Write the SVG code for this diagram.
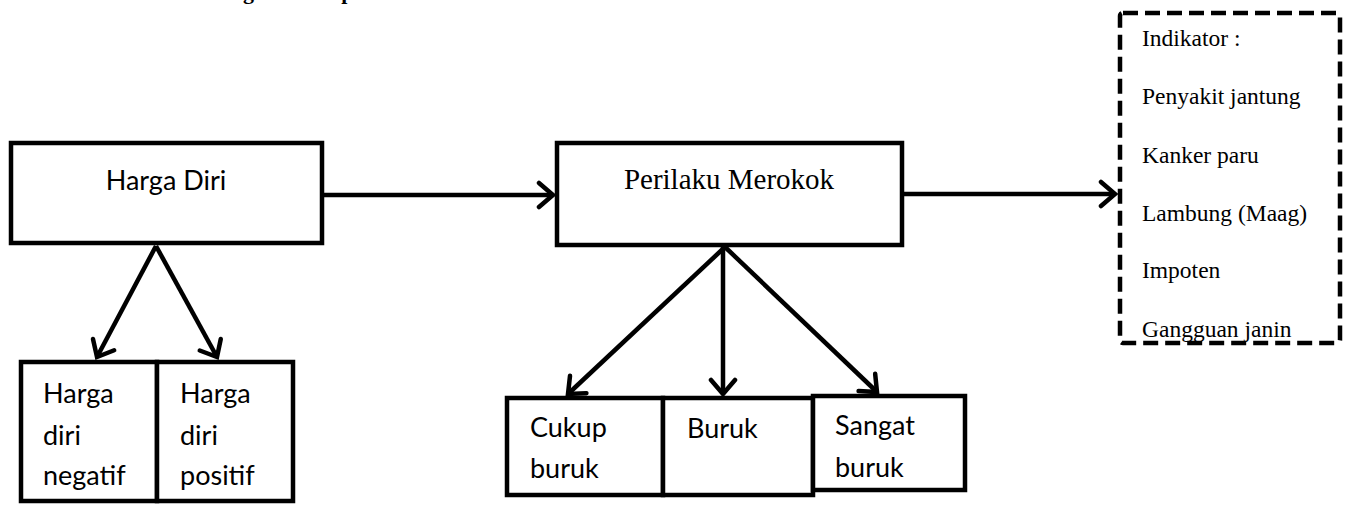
<svg xmlns="http://www.w3.org/2000/svg" width="1349" height="505" viewBox="0 0 1349 505">
  <style>
    .box { fill: #ffffff; stroke: #000000; stroke-width: 4.5; }
    .dash { fill: #ffffff; stroke: #000000; stroke-width: 4.5; stroke-dasharray: 15 7; }
    .conn { stroke: #000000; stroke-width: 4.5; fill: none; }
    .sans { font-family: "Lato", "Liberation Sans", sans-serif; font-size: 27px; fill: #000000; }
    .serif { font-family: "Liberation Serif", "Times New Roman", serif; fill: #000000; }
    .title { font-family: "Liberation Serif", "Times New Roman", serif; font-weight: bold; font-size: 22px; fill: #000000; }
  </style>
  <defs>
    <marker id="arrow" markerUnits="userSpaceOnUse" viewBox="-18 -15 22 30" refX="0" refY="0" markerWidth="22" markerHeight="30" orient="auto">
      <path d="M-14,-12 L0,0 L-14,12" fill="none" stroke="#000000" stroke-width="4.5" stroke-linecap="round" stroke-linejoin="miter"/>
    </marker>
  </defs>
  <rect width="1349" height="505" fill="#ffffff"/>

  <text class="title" x="183" y="-1">Kerangka Konsep</text>

  <g id="connectors">
    <line class="conn" x1="324" y1="195" x2="553" y2="195" marker-end="url(#arrow)"/>
    <line class="conn" x1="904" y1="194" x2="1115" y2="194" marker-end="url(#arrow)"/>
    <line class="conn" x1="156" y1="246" x2="97" y2="357" marker-end="url(#arrow)"/>
    <line class="conn" x1="156" y1="246" x2="217" y2="357" marker-end="url(#arrow)"/>
    <line class="conn" x1="725" y1="247" x2="568" y2="394" marker-end="url(#arrow)"/>
    <line class="conn" x1="723" y1="247" x2="723" y2="394" marker-end="url(#arrow)"/>
    <line class="conn" x1="725" y1="247" x2="877" y2="392" marker-end="url(#arrow)"/>
  </g>

  <g id="node-harga-diri">
    <rect class="box" x="11" y="143" width="311" height="100"/>
    <text class="sans" x="166" y="190" text-anchor="middle">Harga Diri</text>
  </g>

  <g id="node-perilaku-merokok">
    <rect class="box" x="557" y="143" width="345" height="102"/>
    <text class="serif" x="729" y="189" font-size="29" text-anchor="middle">Perilaku Merokok</text>
  </g>

  <g id="node-indikator">
    <rect class="dash" x="1120" y="13" width="220" height="330" rx="3"/>
    <text class="serif" font-size="23.5" x="1142" y="46">Indikator :</text>
    <text class="serif" font-size="23.5" x="1142" y="104">Penyakit jantung</text>
    <text class="serif" font-size="23.5" x="1142" y="163">Kanker paru</text>
    <text class="serif" font-size="23.5" x="1142" y="221">Lambung (Maag)</text>
    <text class="serif" font-size="23.5" x="1142" y="278">Impoten</text>
    <text class="serif" font-size="23.5" x="1142" y="337">Gangguan janin</text>
  </g>

  <g id="node-harga-diri-negatif">
    <rect class="box" x="21" y="362" width="136" height="139"/>
    <text class="sans" x="43" y="403">Harga</text>
    <text class="sans" x="43" y="445">diri</text>
    <text class="sans" x="43" y="485">negatif</text>
  </g>

  <g id="node-harga-diri-positif">
    <rect class="box" x="157" y="362" width="136" height="139"/>
    <text class="sans" x="180" y="403">Harga</text>
    <text class="sans" x="180" y="445">diri</text>
    <text class="sans" x="180" y="485">positif</text>
  </g>

  <g id="node-cukup-buruk">
    <rect class="box" x="507" y="398" width="156" height="97"/>
    <text class="sans" x="530" y="437">Cukup</text>
    <text class="sans" x="530" y="478">buruk</text>
  </g>

  <g id="node-buruk">
    <rect class="box" x="663" y="398" width="150" height="97"/>
    <text class="sans" x="687" y="438">Buruk</text>
  </g>

  <g id="node-sangat-buruk">
    <rect class="box" x="813" y="396" width="152" height="94"/>
    <text class="sans" x="835" y="435">Sangat</text>
    <text class="sans" x="835" y="477">buruk</text>
  </g>
</svg>
